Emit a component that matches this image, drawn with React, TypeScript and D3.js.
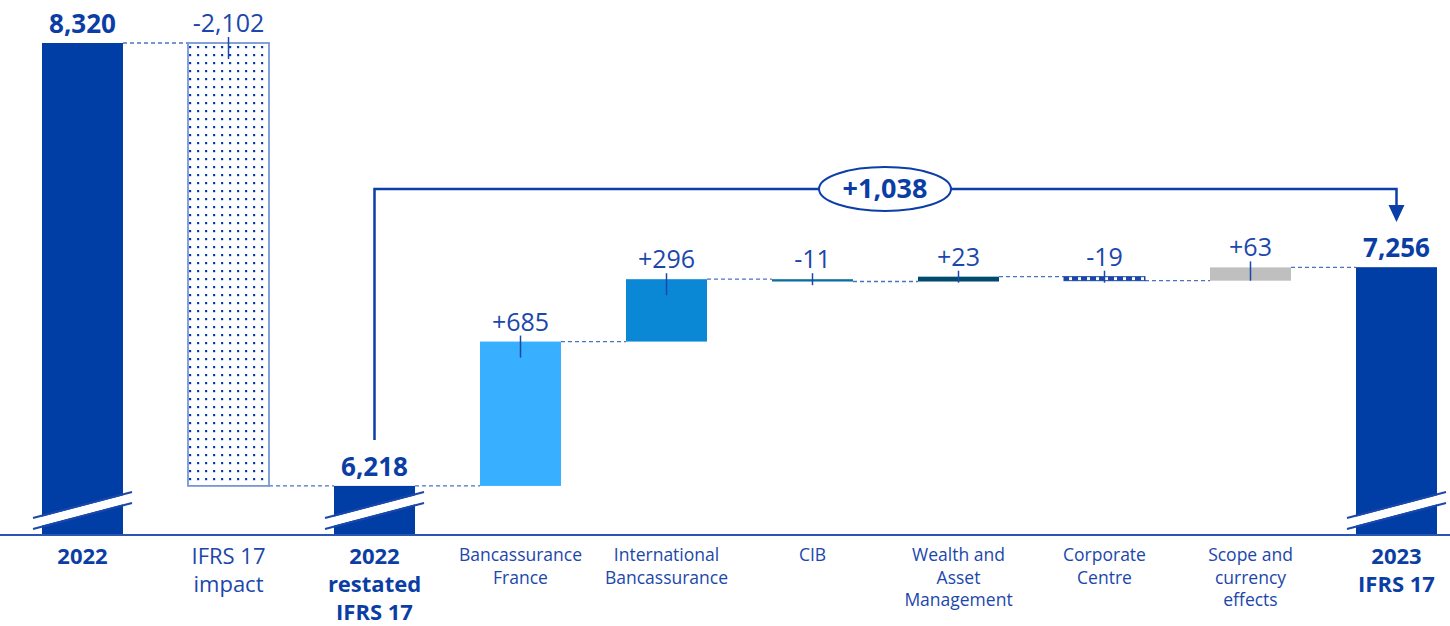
import React from "react";
import * as d3 from "d3";

const categories = [
  "2022",
  "IFRS 17 impact",
  "2022 restated IFRS 17",
  "Bancassurance France",
  "International Bancassurance",
  "CIB",
  "Wealth and Asset Management",
  "Corporate Centre",
  "Scope and currency effects",
  "2023 IFRS 17",
];
const categoryLines = [
  ["2022"],
  ["IFRS 17", "impact"],
  ["2022", "restated", "IFRS 17"],
  ["Bancassurance", "France"],
  ["International", "Bancassurance"],
  ["CIB"],
  ["Wealth and", "Asset", "Management"],
  ["Corporate", "Centre"],
  ["Scope and", "currency", "effects"],
  ["2023", "IFRS 17"],
];
const values = [8320, -2102, 6218, 685, 296, -11, 23, -19, 63, 7256];
const isTotal = [true, false, true, false, false, false, false, false, false, true];
const totalChange = 1038;

const W = 1450;
const H = 626;
const barW = 81;
const AXIS_Y = 535;

const fills = [
  "#003DA5",
  "url(#dots)",
  "#003DA5",
  "#38B0FF",
  "#0A88D6",
  "#0B6E9C",
  "#00496F",
  "url(#hatch)",
  "#BFBFBF",
  "#003DA5",
];
const labelBlue = "#1B47AC";
const boldBlue = "#0B3EA5";

const fmtTotal = d3.format(",");
const fmtDelta = (v: number) => d3.format("+,")(v).replace("\u2212", "-");

export default function App() {
  const x = d3.scalePoint<string>().domain(categories).range([82.5, 1396.5]);
  const y = d3.scaleLinear().domain([5985, 8320]).range([AXIS_Y, 43]);

  let run = 0;
  const bars = values.map((v, i) => {
    let lo: number, hi: number, end: number;
    if (isTotal[i]) {
      lo = y.domain()[0];
      hi = v;
      end = v;
    } else {
      const start = run;
      end = run + v;
      lo = Math.min(start, end);
      hi = Math.max(start, end);
    }
    run = end;
    return { i, v, lo, hi, end, cx: x(categories[i]) as number };
  });

  const fontFam = "'Open Sans', 'DejaVu Sans', sans-serif";

  const restX = bars[2].cx;
  const endX = bars[9].cx;
  const annY = 189;
  const midX = 885;

  return (
    <svg
      width={W}
      height={H}
      style={{ position: "absolute", left: 0, top: 0, background: "#fff" }}
      fontFamily={fontFam}
    >
      <defs>
        <pattern id="dots" width={8} height={8} patternUnits="userSpaceOnUse" x={2} y={3}>
          <rect width={8} height={8} fill="#fff" />
          <rect x={3} y={3} width={2.2} height={2.2} fill="#0A3EA8" />
        </pattern>
        <pattern id="hatch" width={9} height={6} patternUnits="userSpaceOnUse" x={0} y={0}>
          <rect width={9} height={6} fill="#fff" />
          <rect x={1} y={0} width={6} height={6} fill="#1A47AA" />
        </pattern>
      </defs>

      {bars.slice(0, -1).map((b, k) => {
        const nb = bars[k + 1];
        const level = b.end;
        return (
          <line
            key={"c" + k}
            x1={b.cx + barW / 2}
            x2={nb.cx - barW / 2}
            y1={y(level)}
            y2={y(level)}
            stroke="#4C72C4"
            strokeWidth={1.3}
            strokeDasharray="4,3"
          />
        );
      })}

      {bars.map((b) => {
        const top = y(b.hi);
        const bot = y(b.lo);
        const h = Math.max(bot - top, 1.5);
        const isDots = b.i === 1;
        const isHatch = b.i === 7;
        return (
          <rect
            key={"b" + b.i}
            x={b.cx - barW / 2}
            y={top}
            width={barW}
            height={h}
            fill={fills[b.i]}
            stroke={isDots ? "#7896D6" : isHatch ? "#1A47AA" : "none"}
            strokeWidth={isDots ? 1.8 : isHatch ? 1 : 0}
          />
        );
      })}

      {bars
        .filter((b) => isTotal[b.i])
        .map((b) => {
          const x0 = b.cx - barW / 2 - 9;
          const x1 = b.cx + barW / 2 + 9;
          return (
            <g key={"br" + b.i}>
              <polygon
                points={`${x0},${519} ${x1},${493} ${x1},${502} ${x0},${528}`}
                fill="#fff"
              />
              <line x1={x0} y1={518} x2={x1} y2={492} stroke="#1A47AA" strokeWidth={2} />
              <line x1={x0} y1={529} x2={x1} y2={503} stroke="#1A47AA" strokeWidth={2} />
            </g>
          );
        })}

      <line x1={0} x2={W} y1={AXIS_Y} y2={AXIS_Y} stroke="#2A55B5" strokeWidth={2} />

      {bars.map((b) => {
        const top = y(b.hi);
        const bot = y(b.lo);
        if (isTotal[b.i]) {
          return (
            <text
              key={"v" + b.i}
              x={b.cx}
              y={top - 10}
              textAnchor="middle"
              fontSize={26}
              fontWeight={700}
              fill={boldBlue}
            >
              {fmtTotal(b.v)}
            </text>
          );
        }
        const tickBot = Math.min(top + 16, Math.max(bot, top + 6));
        return (
          <g key={"v" + b.i}>
            <line
              x1={b.cx}
              x2={b.cx}
              y1={top - 6}
              y2={tickBot}
              stroke="#1A47AA"
              strokeWidth={1.5}
            />
            <text
              x={b.cx}
              y={top - 11}
              textAnchor="middle"
              fontSize={25}
              fill={labelBlue}
            >
              {fmtDelta(b.v)}
            </text>
          </g>
        );
      })}

      {categoryLines.map((lines, i) => {
        const cx = x(categories[i]) as number;
        const bold = isTotal[i];
        const big = i <= 2 || i === 9;
        const fs = big ? 22 : 17.5;
        const lh = big ? 28 : 22.5;
        const y0 = big ? 564 : 561;
        return (
          <text
            key={"cat" + i}
            textAnchor="middle"
            fontSize={fs}
            fontWeight={bold ? 700 : 400}
            fill={bold ? boldBlue : labelBlue}
          >
            {lines.map((ln, j) => (
              <tspan key={j} x={cx} y={y0 + j * lh}>
                {ln}
              </tspan>
            ))}
          </text>
        );
      })}

      <path
        d={`M${restX},440 L${restX},${annY} L${endX},${annY} L${endX},206`}
        fill="none"
        stroke="#0B3EA8"
        strokeWidth={2.5}
      />
      <polygon
        points={`${endX - 8},205 ${endX + 8},205 ${endX},222`}
        fill="#0B3EA8"
      />
      <ellipse cx={midX} cy={annY} rx={66} ry={22} fill="#fff" stroke="#0B3EA8" strokeWidth={2} />
      <text
        x={midX}
        y={annY + 9}
        textAnchor="middle"
        fontSize={27}
        fontWeight={700}
        fill={boldBlue}
      >
        {fmtDelta(totalChange)}
      </text>
    </svg>
  );
}
